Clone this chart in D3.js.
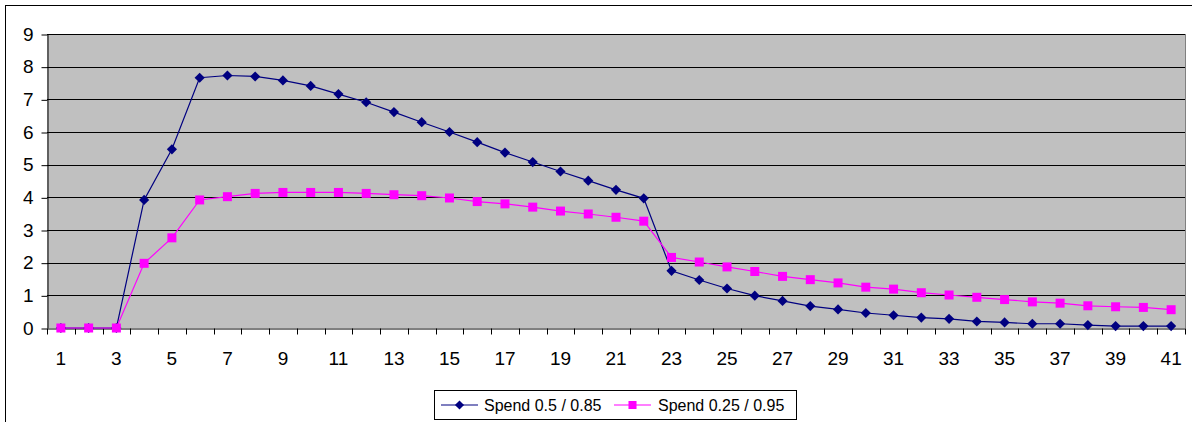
<!DOCTYPE html>
<html>
<head>
<meta charset="utf-8">
<script src="https://cdn.jsdelivr.net/npm/d3@7"></script>
<style>
  body { margin: 0; background: #fff; }
  svg { font-family: "Liberation Sans", Arial, sans-serif; }
  .tick text { fill: #000; }
</style>
</head>
<body>
<div id="chart"></div>
<script>
// categories 1..41
var categories = [1, 2, 3, 4, 5, 6, 7, 8, 9, 10, 11, 12, 13, 14, 15, 16, 17, 18, 19, 20,
    21, 22, 23, 24, 25, 26, 27, 28, 29, 30, 31, 32, 33, 34, 35, 36, 37, 38, 39, 40, 41];

var spendA = [0, 0, 0, 3.92, 5.47, 7.66, 7.73, 7.7, 7.58, 7.41, 7.16, 6.91, 6.61, 6.3, 6.0,
    5.69, 5.37, 5.08, 4.79, 4.51, 4.23, 3.97, 1.75, 1.47, 1.21, 0.99, 0.83, 0.67, 0.57,
    0.46, 0.39, 0.32, 0.28, 0.2, 0.17, 0.13, 0.13, 0.09, 0.06, 0.06, 0.06];

var spendB = [0, 0, 0, 1.98, 2.76, 3.92, 4.02, 4.12, 4.15, 4.15, 4.15, 4.12, 4.08, 4.05, 3.98,
    3.87, 3.8, 3.7, 3.58, 3.49, 3.39, 3.27, 2.16, 2.02, 1.87, 1.73, 1.58, 1.48, 1.38,
    1.25, 1.19, 1.08, 1.01, 0.94, 0.87, 0.8, 0.76, 0.68, 0.65, 0.63, 0.56];

var seriesNames = ["Spend 0.5 / 0.85", "Spend 0.25 / 0.95"];
var yTicks = [0, 1, 2, 3, 4, 5, 6, 7, 8, 9];
var xLabels = categories.filter(function(d) { return d % 2 === 1; });

var W = 1192, H = 422;
var plot = { left: 47, right: 1185, top: 34, bottom: 328 };

var svg = d3.select("#chart").append("svg")
    .attr("width", W)
    .attr("height", H);

// outer chart border
svg.append("rect")
    .attr("x", 5.5).attr("y", 5.5)
    .attr("width", W + 10).attr("height", H + 10)
    .attr("fill", "#fff")
    .attr("stroke", "#000")
    .attr("stroke-width", 1);

var x = d3.scaleBand()
    .domain(categories)
    .range([plot.left, plot.right]);

var y = d3.scaleLinear()
    .domain([0, 9])
    .range([plot.bottom, plot.top]);

// plot background
svg.append("rect")
    .attr("x", plot.left).attr("y", plot.top)
    .attr("width", plot.right - plot.left)
    .attr("height", plot.bottom - plot.top)
    .attr("fill", "#c0c0c0");

// gridlines
svg.append("g")
    .selectAll("line")
    .data(yTicks.slice(1))
    .join("line")
    .attr("x1", plot.left).attr("x2", plot.right)
    .attr("y1", function(d) { return Math.round(y(d)) + 0.5; })
    .attr("y2", function(d) { return Math.round(y(d)) + 0.5; })
    .attr("stroke", "#000")
    .attr("stroke-width", 1);

// right border of plot area
svg.append("line")
    .attr("x1", plot.right + 0.5).attr("x2", plot.right + 0.5)
    .attr("y1", plot.top).attr("y2", plot.bottom)
    .attr("stroke", "#808080");

// Y axis
var yAxis = svg.append("g")
    .attr("transform", "translate(" + (plot.left + 0.5) + ",0)")
    .call(d3.axisLeft(y).tickValues(yTicks).tickSize(6).tickPadding(8)
        .tickSizeOuter(0));
yAxis.attr("font-size", 19).attr("font-family", "Liberation Sans, Arial, sans-serif");
yAxis.select(".domain").attr("stroke", "#000");
yAxis.selectAll(".tick line").attr("stroke", "#000")
    .attr("transform", "translate(0,0.5)");

// X axis: labels on odd categories, tick marks between categories
var xAxis = svg.append("g")
    .attr("transform", "translate(0," + (plot.bottom + 0.5) + ")")
    .call(d3.axisBottom(x).tickValues(xLabels).tickSize(0).tickPadding(23)
        .tickSizeOuter(0));
xAxis.attr("font-size", 19).attr("font-family", "Liberation Sans, Arial, sans-serif");
xAxis.select(".domain").attr("stroke", "#000");

var bounds = categories.map(function(d) { return x(d); }).concat([plot.right]);
xAxis.append("g")
    .selectAll("line")
    .data(bounds)
    .join("line")
    .attr("x1", function(d) { return Math.round(d) + 0.5; })
    .attr("x2", function(d) { return Math.round(d) + 0.5; })
    .attr("y1", 0).attr("y2", 6)
    .attr("stroke", "#000");

// series
var cx = function(i) { return x(categories[i]) + x.bandwidth() / 2; };
var line = d3.line()
    .x(function(d, i) { return cx(i); })
    .y(function(d) { return y(d); });

var series = [
    { name: seriesNames[0], values: spendA, color: "#000080", symbol: d3.symbolDiamond2, size: 66 },
    { name: seriesNames[1], values: spendB, color: "#ff00ff", symbol: d3.symbolSquare, size: 81 }
];

series.forEach(function(s) {
    svg.append("path")
        .datum(s.values)
        .attr("fill", "none")
        .attr("stroke", s.color)
        .attr("stroke-width", 1.2)
        .attr("d", line);
});

series.forEach(function(s) {
    svg.append("g")
        .selectAll("path")
        .data(s.values)
        .join("path")
        .attr("transform", function(d, i) {
            return "translate(" + cx(i) + "," + y(d) + ")";
        })
        .attr("d", d3.symbol().type(s.symbol).size(s.size))
        .attr("fill", s.color);
});

// legend
var legend = svg.append("g");
legend.append("rect")
    .attr("x", 434.5).attr("y", 390.5)
    .attr("width", 362).attr("height", 29)
    .attr("fill", "#fff")
    .attr("stroke", "#000");

var legendPos = [{ x0: 441, text: 484 }, { x0: 614, text: 658 }];
series.forEach(function(s, i) {
    var p = legendPos[i];
    legend.append("line")
        .attr("x1", p.x0).attr("x2", p.x0 + 37)
        .attr("y1", 405).attr("y2", 405)
        .attr("stroke", s.color)
        .attr("stroke-width", 1.2);
    legend.append("path")
        .attr("transform", "translate(" + (p.x0 + 18.5) + ",405)")
        .attr("d", d3.symbol().type(s.symbol).size(s.size * 0.8))
        .attr("fill", s.color);
    legend.append("text")
        .attr("x", p.text).attr("y", 411)
        .attr("font-size", 16)
        .text(s.name);
});
</script>
</body>
</html>
